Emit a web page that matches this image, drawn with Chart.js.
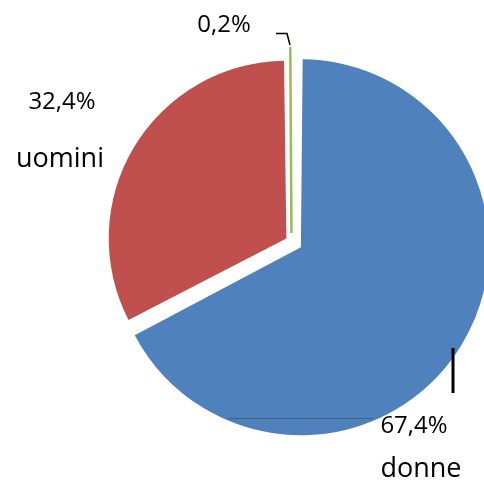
<!DOCTYPE html>
<html>
<head>
<meta charset="utf-8">
<script src="https://cdn.jsdelivr.net/npm/chart.js@4/dist/chart.umd.min.js"></script>
<style>
  html, body { margin: 0; padding: 0; background: #fff; }
  #wrap { width: 484px; height: 480px; }
</style>
</head>
<body>
<div id="wrap"><canvas id="chart" width="484" height="480"></canvas></div>
<script>
// chart data
const categories = ['donne', 'uomini', ''];
const values = [67.4, 32.4, 0.2];
const percentLabels = ['67,4%', '32,4%', '0,2%'];
const sliceColors = ['#4F81BD', '#C0504D', '#9BBB59'];
// Chart.js only moves an arc by about offset/4, so these look big
const sliceOffsets = [44, 24, 34];
// the 0.2% slice is thinner than its offset gap, a border keeps it visible
const sliceBorders = [0, 0, 2.5];

// where the text labels sit (Excel-style placement)
const labelSpots = [
  { pct: [414, 433], name: [421, 477] },
  { pct: [62, 109], name: [60, 167] },
  { pct: [224, 32], name: null },
];

const labelsPlugin = {
  id: 'pieLabels',
  afterDatasetsDraw(chart) {
    const ctx = chart.ctx;
    ctx.save();

    // leader lines
    ctx.strokeStyle = '#000';
    ctx.lineWidth = 1.5;
    ctx.beginPath();
    ctx.moveTo(276, 33.5);
    ctx.lineTo(287, 33.5);
    ctx.lineTo(290, 45);
    ctx.stroke();

    ctx.lineWidth = 3;
    ctx.beginPath();
    ctx.moveTo(453, 348);
    ctx.lineTo(453, 393);
    ctx.stroke();

    ctx.strokeStyle = '#3f5f86';
    ctx.lineWidth = 1;
    ctx.beginPath();
    ctx.moveTo(228, 418.5);
    ctx.lineTo(372, 418.5);
    ctx.stroke();

    ctx.fillStyle = '#000';
    ctx.textAlign = 'center';
    ctx.textBaseline = 'alphabetic';
    categories.forEach((cat, i) => {
      const spot = labelSpots[i];
      ctx.font = '24px "Open Sans"';
      ctx.fillText(percentLabels[i], spot.pct[0], spot.pct[1]);
      if (spot.name && cat) {
        ctx.font = '27px "Open Sans"';
        ctx.fillText(cat, spot.name[0], spot.name[1]);
      }
    });
    ctx.restore();
  }
};

new Chart(document.getElementById('chart'), {
  type: 'pie',
  data: {
    labels: categories,
    datasets: [{
      data: values,
      backgroundColor: sliceColors,
      borderColor: sliceColors,
      borderWidth: sliceBorders,
      offset: sliceOffsets,
    }]
  },
  options: {
    responsive: false,
    animation: false,
    radius: 177,
    layout: { padding: { left: 99, top: 3, right: 0, bottom: 0 } },
    plugins: {
      legend: { display: false },
      tooltip: { enabled: false },
    },
  },
  plugins: [labelsPlugin],
});
</script>
</body>
</html>
